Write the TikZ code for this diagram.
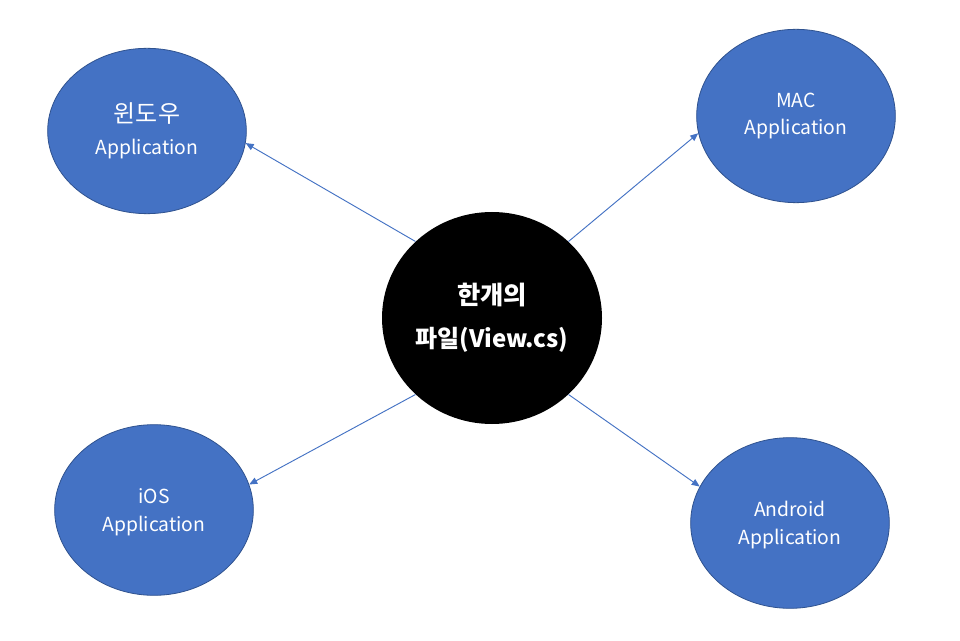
\documentclass[tikz,border=0pt]{standalone}
\usepackage{fontspec}
\setmainfont{Noto Sans CJK KR}
\usetikzlibrary{shapes.geometric,arrows.meta}

\definecolor{appblue}{HTML}{4472C4}
\definecolor{appborder}{HTML}{2F528F}

\begin{document}
\begin{tikzpicture}[
    x=0.75pt, y=-0.75pt,
    appbox/.style={ellipse, draw=appborder, fill=appblue, line width=0.6pt, text=white, align=center, inner sep=0pt, font=\fontsize{14.5}{20.5}\selectfont},
    hubbox/.style={ellipse, fill=black, text=white, align=center, inner sep=0pt, font=\bfseries\fontsize{18}{32}\selectfont},
    arrow/.style={-{Triangle[length=6pt, width=5pt]}, line width=0.7pt, draw=appblue}
]

    % Cadre de la page
    \fill[white] (0,0) rectangle (960,641);
    \useasboundingbox (0,0) rectangle (960,641);

    % Fichier central
    \node[hubbox, minimum width=165pt, minimum height=159pt] (hub) at (492,318) {\fontsize{19}{32}\selectfont 한개의\\파일\fontsize{18}{32}\selectfont(View.cs)};

    % Applications cibles
    \node[appbox, minimum width=149pt, minimum height=124pt, font=\fontsize{14.5}{24}\selectfont] (win) at (147,131) {{\fontsize{18}{24}\selectfont 윈도우}\\Application};
    \node[appbox, minimum width=149pt, minimum height=130pt] (mac) at (796,116) {MAC\\[-0.5pt]Application};
    \node[appbox, minimum width=149pt, minimum height=128pt] (ios) at (154,510) {\strut iOS\\Application};
    \node[appbox, minimum width=149pt, minimum height=128pt] (android) at (790,523) {\strut Android\\Application};

    % Liaisons
    \draw[arrow] (hub.135) -- (win.-7);
    \draw[arrow] (hub.45) -- (mac.190);
    \draw[arrow] (hub.225) -- (ios.15);
    \draw[arrow] (hub.-45) -- (android.158);

\end{tikzpicture}
\end{document}
